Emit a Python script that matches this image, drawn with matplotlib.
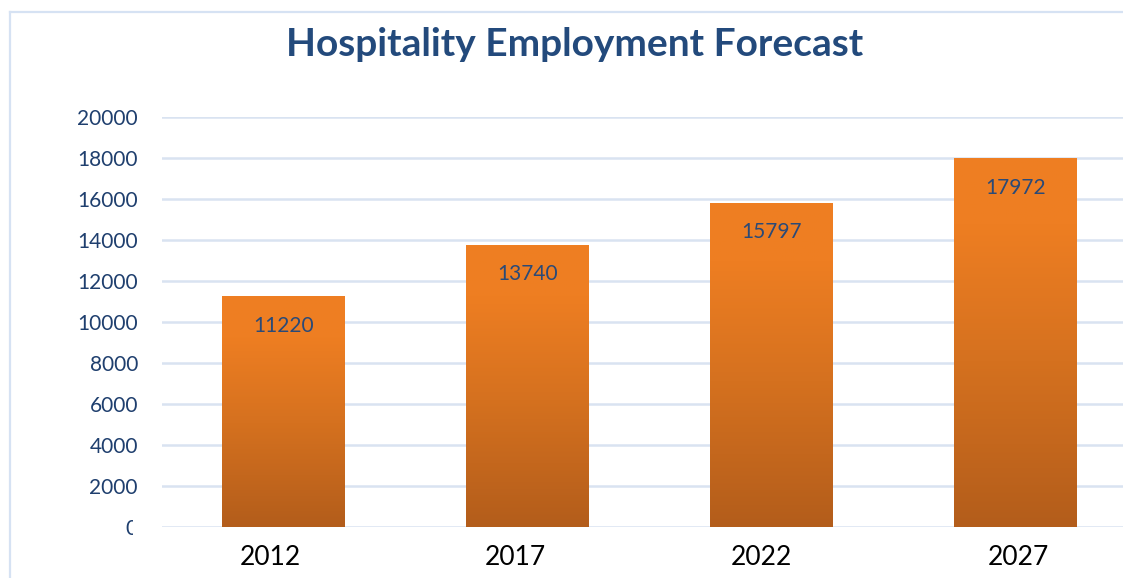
import numpy as np
import matplotlib
matplotlib.use("Agg")
import matplotlib.pyplot as plt
from matplotlib.colors import LinearSegmentedColormap
from matplotlib.lines import Line2D
from matplotlib.transforms import Bbox, ScaledTranslation

years = ["2012", "2017", "2022", "2027"]
employment = [11220, 13740, 15797, 17972]
yticks = [0, 2000, 4000, 6000, 8000, 10000, 12000, 14000, 16000, 18000, 20000]

W, H = 1123, 578
fig = plt.figure(figsize=(W / 100, H / 100), dpi=100)
plt.rcParams['font.family'] = ['Lato', 'DejaVu Sans']

# Chart frame (only left and top edges visible)
frame_col = "#D6E2F3"
fig.add_artist(Line2D([9.5 / W, 9.5 / W], [0, 1 - 12 / H], color=frame_col, lw=1.6,
                      transform=fig.transFigure))
fig.add_artist(Line2D([9.5 / W, 1], [1 - 12 / H, 1 - 12 / H], color=frame_col, lw=1.6,
                      transform=fig.transFigure))

left, right = 161.5 / W, 1137.5 / W
bottom, top = (H - 527) / H, (H - 117) / H
ax = fig.add_axes([left, bottom, right - left, top - bottom])
for s in ax.spines.values():
    s.set_visible(False)
ax.set_yticks(yticks)
ax.yaxis.grid(True, color="#D9E3F1", lw=1.8)
ax.set_axisbelow(True)
ax.tick_params(axis="both", length=0)
ax.tick_params(axis="y", pad=17, labelsize=15, labelcolor="#1F3F6E")
ax.tick_params(axis="x", pad=13, labelsize=19, labelcolor="#000000")

x = np.arange(len(years))
bars = ax.bar(x, employment, width=0.504, color="none", zorder=2)
ax.set_xticks(x)
ax.set_xticklabels(years)

cmap = LinearSegmentedColormap.from_list(
    "og", [(0.0, "#B35D1B"), (0.45, "#D5711F"), (0.82, "#EE7E22"), (1.0, "#EF7F22")])
grad = np.linspace(0, 1, 256).reshape(-1, 1)
for b, v in zip(bars, employment):
    x0, w, h = b.get_x(), b.get_width(), b.get_height()
    ax.imshow(grad, cmap=cmap, aspect="auto", origin="lower",
              extent=[x0, x0 + w, 0, h], zorder=2.5, interpolation="bilinear")
    ax.annotate(str(v), (x0 + w / 2, h), xytext=(0, -21), textcoords="offset points",
                ha="center", va="center", fontsize=15, color="#2A4A78", zorder=4)
ax.set_xlim(-0.5, len(years) - 0.5)
ax.set_ylim(0, 20000)

# category labels in the reference sit slightly off the bar centres (pixels)
label_shift_px = [-13, -12, -10, 3]
for lbl, dx in zip(ax.get_xticklabels(), label_shift_px):
    lbl.set_transform(lbl.get_transform() + ScaledTranslation(dx / 100, 0, fig.dpi_scale_trans))

# clip the "0" tick label as in the reference
fig.canvas.draw()
for lbl in ax.get_yticklabels():
    if lbl.get_text() == "0":
        lbl.set_clip_box(Bbox.from_extents(0, 0, 133, H - 519))
        lbl.set_clip_on(True)

fig.text(574.5 / W, 1 - 56 / H, "Hospitality Employment Forecast", ha="center",
         va="baseline", fontsize=28, fontweight="bold", color="#234A7C")

fig.savefig("out.png", dpi=100)
